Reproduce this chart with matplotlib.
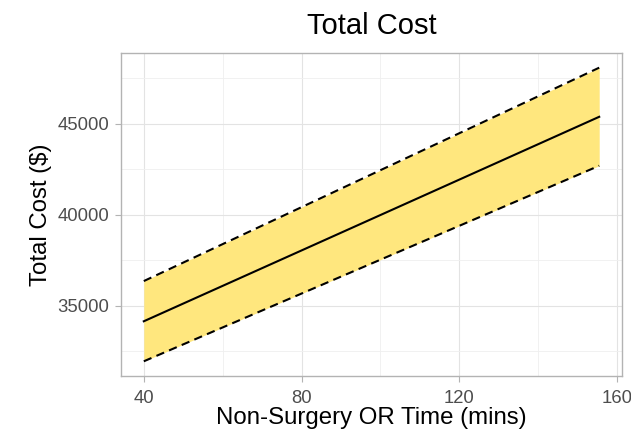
import matplotlib
matplotlib.use("Agg")
import matplotlib.pyplot as plt
from matplotlib.ticker import MultipleLocator

plt.rcParams['font.family'] = ['Liberation Sans', 'DejaVu Sans']

# Predicted total cost vs non-surgery OR time, with confidence band
or_time = [40, 155.5]
fit = [34150, 45390]
upper = [36360, 48090]
lower = [31950, 42700]

x_ticks = [40, 80, 120, 160]
y_ticks = [35000, 40000, 45000]

fig = plt.figure(figsize=(6.31, 4.38), dpi=100)
ax = fig.add_axes([0.1918, 0.1416, 0.7939, 0.7374])

ax.fill_between(or_time, lower, upper, color='#FFE77E', linewidth=0, zorder=2)
ax.plot(or_time, fit, color='black', lw=1.5, zorder=3)
ax.plot(or_time, upper, color='black', lw=1.5, ls=(0, (4, 2.6)), zorder=3)
ax.plot(or_time, lower, color='black', lw=1.5, ls=(0, (4, 2.6)), zorder=3)

span_x = or_time[-1] - or_time[0]
ax.set_xlim(or_time[0] - 0.05 * span_x, or_time[-1] + 0.05 * span_x)
span_y = max(upper) - min(lower)
ax.set_ylim(min(lower) - 0.05 * span_y, max(upper) + 0.05 * span_y)

ax.set_xticks(x_ticks)
ax.set_yticks(y_ticks)
ax.xaxis.set_minor_locator(MultipleLocator(20))
ax.yaxis.set_minor_locator(MultipleLocator(2500))
ax.grid(which='major', color='#E3E3E3', lw=0.8, zorder=0)
ax.grid(which='minor', color='#EFEFEF', lw=0.6, zorder=0)
ax.set_axisbelow(True)

for s in ax.spines.values():
    s.set_color('#B3B3B3')
    s.set_linewidth(1.0)

ax.tick_params(which='major', length=4.3, color='#B3B3B3', labelcolor='#4D4D4D',
               labelsize=13.3)
ax.tick_params(axis='x', pad=5.5)
ax.tick_params(axis='y', pad=4)
ax.tick_params(which='minor', length=0)

ax.set_xlabel('Non-Surgery OR Time (mins)', fontsize=17.3, color='black', labelpad=0)
ax.set_ylabel('Total Cost ($)', fontsize=17.3, color='black', labelpad=4)
ax.set_title('Total Cost', fontsize=21, color='black', pad=13.5)

fig.savefig('out.png', dpi=100)
